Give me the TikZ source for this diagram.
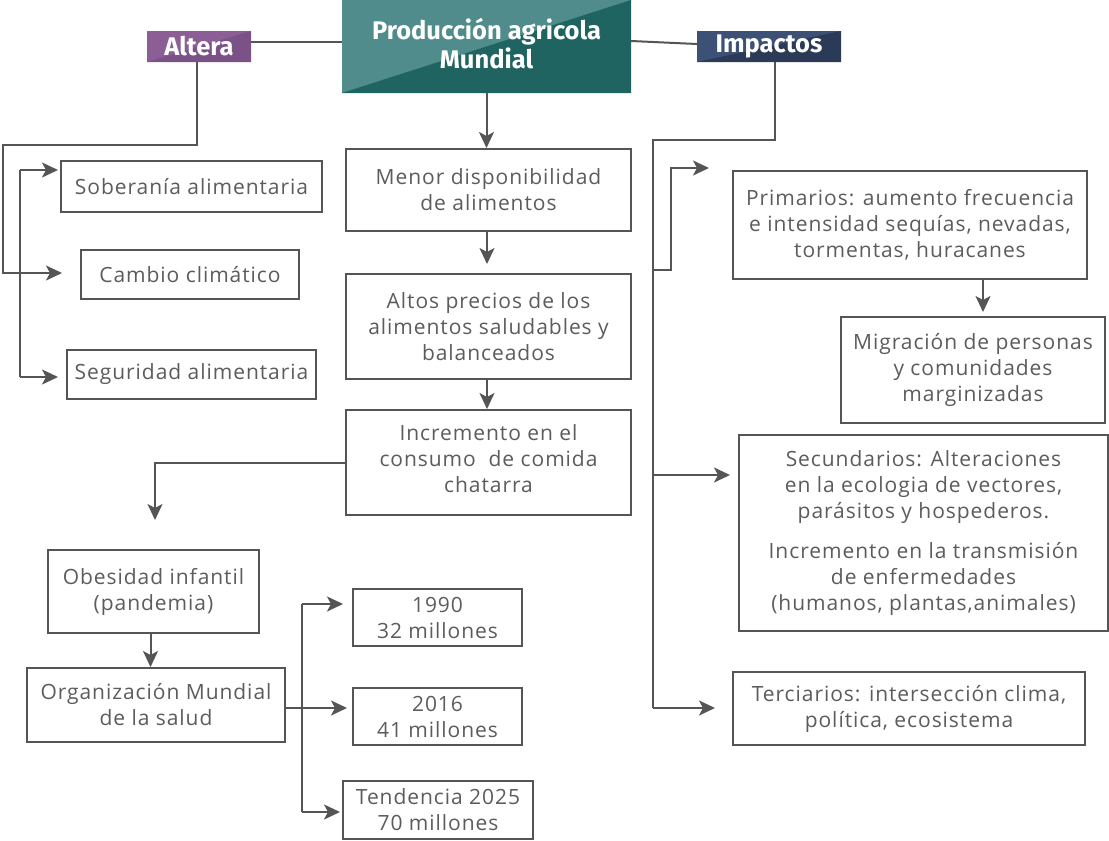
\documentclass[tikz,border=0pt]{standalone}
\usepackage{fontspec}
\newfontfamily\bodyfont{Open Sans}[LetterSpace=4.5]
\newfontfamily\headfont{Fira Sans}
\usetikzlibrary{arrows.meta}
\definecolor{ink}{HTML}{555555}
\definecolor{txt}{HTML}{5C5C5C}
\definecolor{tealA}{HTML}{508C8B}
\definecolor{tealB}{HTML}{1F6461}
\definecolor{purA}{HTML}{8C5E96}
\definecolor{purB}{HTML}{7B5287}
\definecolor{navA}{HTML}{3C5175}
\definecolor{navB}{HTML}{2B3A56}
\tikzset{
  bx/.style={draw=ink, line width=2pt, text=txt, align=center, inner sep=0pt,
    font=\bodyfont\fontsize{21}{26}\selectfont},
  twotone/.style n args={2}{fill=#1, path picture={\fill[#2]
    (path picture bounding box.south west) -- (path picture bounding box.north east)
    -- (path picture bounding box.south east) -- cycle;}},
  hd/.style={text=white, align=center, inner sep=0pt, font=\headfont\bfseries\fontsize{25.5}{29}\selectfont},
  conn/.style={draw=ink, line width=2pt},
  arr/.style={conn, -{Stealth[length=16pt,width=15pt,inset=4pt]}},
}
\begin{document}
\begin{tikzpicture}[x=1pt,y=-1pt]
\useasboundingbox[fill=white] (0,0) rectangle (1109,841);

% header nodes
\node[hd, twotone={tealA}{tealB}, minimum width=289pt, minimum height=93pt] (hdr) at (486.5,46.5) {Producción agricola\\Mundial\\[-22pt]\mbox{}};
\node[hd, twotone={purA}{purB}, minimum width=104pt, minimum height=31pt] (alt) at (199,46.5) {Altera};
\node[hd, twotone={navA}{navB}, minimum width=144pt, minimum height=31pt] (imp) at (769,46.5) {Impactos};

% left column
\node[bx, minimum width=261pt, minimum height=51pt] (sob) at (191.5,186.5) {Soberanía alimentaria};
\node[bx, minimum width=218pt, minimum height=49pt] (cam) at (190,274.5) {Cambio climático};
\node[bx, minimum width=249pt, minimum height=49pt] (seg) at (191.5,374.5) {Seguridad alimentaria};

% center column
\node[bx, minimum width=285pt, minimum height=82pt] (men) at (488.5,190) {Menor disponibilidad\\de alimentos};
\node[bx, minimum width=285pt, minimum height=105pt] (alto) at (488.5,326.5) {Altos precios de los\\alimentos saludables y\\balanceados};
\node[bx, minimum width=285pt, minimum height=105pt] (inc) at (488.5,462.5) {Incremento en el\\consumo~ de comida\\chatarra\\[-18pt]\mbox{}};

% bottom left
\node[bx, minimum width=211pt, minimum height=83pt] (ob) at (153.5,591.5) {Obesidad infantil\\(pandemia)};
\node[bx, minimum width=258pt, minimum height=74pt] (oms) at (156,705) {Organización Mundial\\de la salud};
\node[bx, minimum width=169pt, minimum height=57pt] (y90) at (437.5,617.5) {1990\\32 millones};
\node[bx, minimum width=169pt, minimum height=57pt] (y16) at (437.5,716.5) {2016\\41 millones};
\node[bx, minimum width=190pt, minimum height=58pt] (y25) at (438,810) {Tendencia 2025\\70 millones};

% right column
\node[bx, minimum width=354pt, minimum height=108pt] (pri) at (910,225) {Primarios: aumento frecuencia\\e intensidad sequías, nevadas,\\tormentas, huracanes};
\node[bx, minimum width=264pt, minimum height=106pt] (mig) at (973,370) {Migración de personas\\y comunidades\\marginizadas};
\node[bx, minimum width=369pt, minimum height=196pt] (sec) at (923.5,533) {Secundarios: Alteraciones\\en la ecologia de vectores,\\parásitos y hospederos.\\[14pt]Incremento en la transmisión\\de enfermedades\\(humanos, plantas,animales)};
\node[bx, minimum width=352pt, minimum height=73pt] (ter) at (909,708.5) {Terciarios: intersección clima,\\política, ecosistema};

% coordinates
\coordinate (aL) at (3,145);
\coordinate (bT) at (20,170);
\coordinate (bB) at (20,377);
\coordinate (sobTip) at (58,170);
\coordinate (camTip) at (62,273);
\coordinate (segTip) at (58,377);
\coordinate (obTip) at (155,520);
\coordinate (vT) at (302,604);
\coordinate (vB) at (302,812);
\coordinate (t90) at (343,604);
\coordinate (t16) at (347,708);
\coordinate (t25) at (340,812);
\coordinate (rT) at (653,140);
\coordinate (rP) at (653,270);
\coordinate (rS) at (653,475);
\coordinate (rB) at (653,708);
\coordinate (priTip) at (709,168);
\coordinate (secTip) at (730,475);
\coordinate (terTip) at (715,708);
\coordinate (migTip) at (983,312);
\coordinate (altTip) at (487,264);

% connectors top
\draw[conn] ([yshift=4.5pt]alt.east) -- ([yshift=4.5pt]hdr.west);
\draw[conn] ([yshift=5.5pt]hdr.east) -- ([yshift=2.5pt]imp.west);

% left
\draw[arr] ([xshift=-2pt]alt.south) |- (aL) |- (camTip);
\draw[conn] (bT) -- (bB);
\draw[arr] (bT) -- (sobTip);
\draw[arr] (bB) -- (segTip);

% center
\draw[arr] (hdr.south) -- (hdr.south |- men.north);
\draw[arr] ([xshift=-1.5pt]men.south) -- (altTip);
\draw[arr] ([xshift=-1.5pt]alto.south) -- ([xshift=-1.5pt]inc.north);
\draw[arr] (inc.west) -| (obTip);
\draw[arr] ([xshift=-3pt]ob.south) -- ([xshift=-3pt]ob.south |- oms.north);
\draw[arr] ([yshift=-3pt]oms.east) -- (t16);
\draw[conn] (vT) -- (vB);
\draw[arr] (vT) -- (t90);
\draw[arr] (vB) -- (t25);

% right
\draw[conn] ([xshift=6pt]imp.south) |- (rT) -- (rB);
\draw[arr] (rP) -- ++(18,0) |- (priTip);
\draw[arr] (rS) -- (secTip);
\draw[arr] (rB) -- (terTip);
\draw[arr] ([xshift=73pt]pri.south) -- (migTip);
\end{tikzpicture}
\end{document}
